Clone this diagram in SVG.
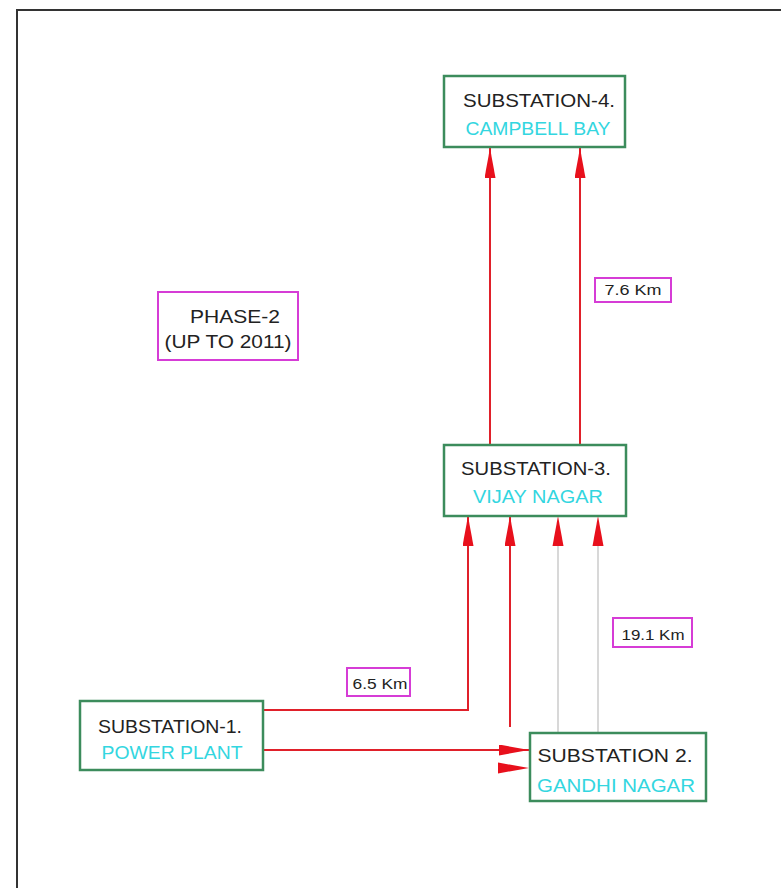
<svg xmlns="http://www.w3.org/2000/svg" width="781" height="888" viewBox="0 0 781 888">
<style>
.node{fill:#ffffff;stroke:#3c8c5c;stroke-width:2.5}
.lbl{fill:#ffffff;stroke:#d63cd6;stroke-width:2}
.t1{font-family:"Liberation Sans",Arial,sans-serif;font-size:19px;fill:#222222;text-anchor:middle}
.t2{font-family:"Liberation Sans",Arial,sans-serif;font-size:19px;fill:#33d6e0;text-anchor:middle}
.ts{font-family:"Liberation Sans",Arial,sans-serif;font-size:14px;fill:#222222;text-anchor:middle}
.red{stroke:#e0202a;stroke-width:2;fill:none}
.grey{stroke:#d8d8d8;stroke-width:2;fill:none}
</style>
<defs>
<marker id="ah" viewBox="0 0 30 11" refX="30" refY="5.5" markerWidth="30" markerHeight="11" markerUnits="userSpaceOnUse" orient="auto">
<path d="M0,0 L30,5.5 L0,11 Z" fill="#e8101c"/>
</marker>
</defs>
<rect width="781" height="888" fill="#ffffff"/>
<path d="M17,888 V10 H781" fill="none" stroke="#333333" stroke-width="2"/>
<g id="connectors">
<line class="red" x1="490" y1="445" x2="490" y2="148" marker-end="url(#ah)"/>
<line class="red" x1="580" y1="445" x2="580" y2="148" marker-end="url(#ah)"/>
<polyline class="red" points="263,710 468,710 468,516" marker-end="url(#ah)"/>
<line class="red" x1="510" y1="727" x2="510" y2="516" marker-end="url(#ah)"/>
<line class="grey" x1="558" y1="733" x2="558" y2="545"/>
<line class="grey" x1="598" y1="733" x2="598" y2="545"/>
<path d="M552.5,546 L558,516 L563.5,546 Z" fill="#e8101c"/>
<path d="M592.5,546 L598,516 L603.5,546 Z" fill="#e8101c"/>
<line class="red" x1="263" y1="750" x2="529" y2="750" marker-end="url(#ah)"/>
<path d="M498,762.5 L529,768 L498,773.5 Z" fill="#e8101c"/>
</g>
<g id="substation4">
<rect class="node" x="444" y="76" width="181" height="71"/>
<text class="t1" x="539" y="107" textLength="152" lengthAdjust="spacingAndGlyphs">SUBSTATION-4.</text>
<text class="t2" x="538" y="135" textLength="145" lengthAdjust="spacingAndGlyphs">CAMPBELL BAY</text>
</g>
<g id="substation3">
<rect class="node" x="444" y="445" width="182" height="71"/>
<text class="t1" x="536" y="475" textLength="150" lengthAdjust="spacingAndGlyphs">SUBSTATION-3.</text>
<text class="t2" x="538" y="503" textLength="130" lengthAdjust="spacingAndGlyphs">VIJAY NAGAR</text>
</g>
<g id="substation1">
<rect class="node" x="80" y="701" width="183" height="69"/>
<text class="t1" x="170" y="733" textLength="144" lengthAdjust="spacingAndGlyphs">SUBSTATION-1.</text>
<text class="t2" x="172" y="759" textLength="141" lengthAdjust="spacingAndGlyphs">POWER PLANT</text>
</g>
<g id="substation2">
<rect class="node" x="530" y="733" width="176" height="68"/>
<text class="t1" x="615" y="762" textLength="155" lengthAdjust="spacingAndGlyphs">SUBSTATION 2.</text>
<text class="t2" x="616" y="792" textLength="158" lengthAdjust="spacingAndGlyphs">GANDHI NAGAR</text>
</g>
<g id="phase2">
<rect class="lbl" x="158" y="292" width="140" height="68"/>
<text class="t1" x="235" y="323" textLength="90" lengthAdjust="spacingAndGlyphs">PHASE-2</text>
<text class="t1" x="228" y="348" textLength="127" lengthAdjust="spacingAndGlyphs">(UP TO 2011)</text>
</g>
<g id="d1">
<rect class="lbl" x="595" y="278" width="76" height="24"/>
<text class="ts" x="633" y="295" textLength="57" lengthAdjust="spacingAndGlyphs">7.6 Km</text>
</g>
<g id="d2">
<rect class="lbl" x="347" y="668" width="63" height="28"/>
<text class="ts" x="380" y="689" textLength="55" lengthAdjust="spacingAndGlyphs">6.5 Km</text>
</g>
<g id="d3">
<rect class="lbl" x="613" y="618" width="79" height="29"/>
<text class="ts" x="653" y="640" textLength="63" lengthAdjust="spacingAndGlyphs">19.1 Km</text>
</g>
</svg>
